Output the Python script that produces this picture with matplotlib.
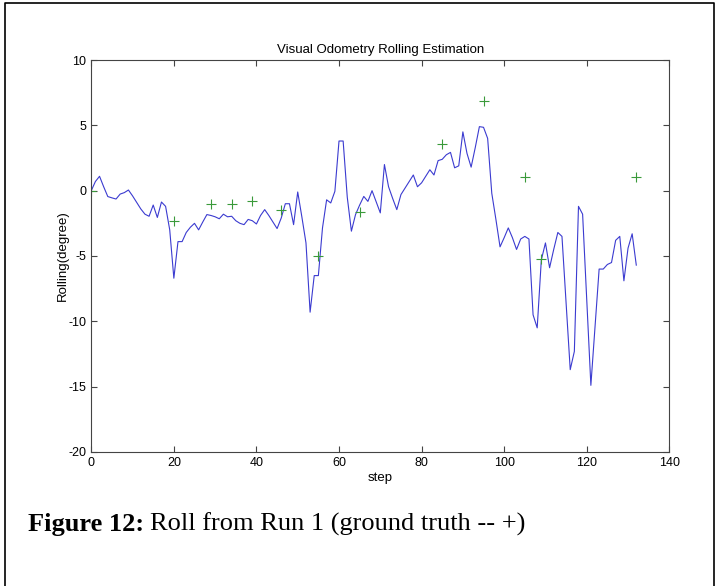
import numpy as np
import matplotlib
matplotlib.use("Agg")
import matplotlib.pyplot as plt
from matplotlib.lines import Line2D

plt.rcParams["font.family"] = ["Liberation Sans", "DejaVu Sans"]
plt.rcParams["axes.unicode_minus"] = False

# estimated roll from the visual odometry (one value per step)
roll_est = [
    0.0, 0.7, 1.1, 0.3, -0.45, -0.55, -0.64, -0.26, -0.15, 0.05,
    -0.4, -0.9, -1.4, -1.8, -1.96, -1.1, -2.05, -0.87, -1.2, -3.0,
    -6.7, -3.9, -3.9, -3.2, -2.8, -2.5, -3.0, -2.4, -1.83, -1.9,
    -2.0, -2.15, -1.8, -2.0, -1.96, -2.3, -2.5, -2.6, -2.2, -2.3,
    -2.55, -1.9, -1.45, -1.9, -2.4, -2.9, -2.1, -1.0, -1.0, -2.6,
    -0.1, -2.0, -4.0, -9.3, -6.5, -6.5, -2.85, -0.7, -0.94, -0.05,
    3.8, 3.8, -0.5, -3.1, -1.83, -1.1, -0.44, -0.82, 0.0, -0.85,
    -1.7, 2.0, 0.3, -0.6, -1.45, -0.3, 0.2, 0.7, 1.2, 0.3,
    0.6, 1.1, 1.6, 1.2, 2.3, 2.4, 2.75, 2.93, 1.75, 1.9,
    4.5, 2.85, 1.8, 3.3, 4.9, 4.85, 4.0, -0.2, -2.2, -4.3,
    -3.6, -2.85, -3.6, -4.5, -3.7, -3.5, -3.7, -9.5, -10.5, -5.3,
    -4.0, -5.9, -4.5, -3.2, -3.5, -8.6, -13.7, -12.3, -1.2, -1.8,
    -8.4, -14.9, -10.5, -6.0, -6.0, -5.65, -5.5, -3.8, -3.5, -6.9,
    -4.4, -3.3, -5.7,
]
steps = np.arange(len(roll_est))

# ground truth samples
gt_steps = [0, 20, 29, 34, 39, 46, 55, 65, 85, 95, 105, 109, 132]
gt_roll = [0.0, -2.3, -1.0, -1.0, -0.8, -1.5, -5.0, -1.65, 3.55, 6.85, 1.07, -5.25, 1.05]

fig = plt.figure(figsize=(7.17, 5.86), dpi=100)
ax = fig.add_axes([0.1273, 0.2287, 0.8062, 0.6689])

ax.plot(steps, roll_est, color="#3b3bd0", lw=0.8)
ax.plot(gt_steps, gt_roll, "+", color="#3a9a3a", ms=7, mew=0.8)

ax.set_xlim(0, 140)
ax.set_ylim(-20, 10)
ax.set_xticks(np.arange(0, 141, 20))
ax.set_yticks(np.arange(-20, 11, 5))
ax.tick_params(direction="in", top=True, right=True, length=4, width=0.8,
               labelsize=9, color="#444444", pad=3.5)
for s in ax.spines.values():
    s.set_color("#444444")
    s.set_linewidth(0.8)

ax.set_title("Visual Odometry Rolling Estimation", fontsize=9.5, pad=5)
ax.set_xlabel("step", fontsize=9.5, labelpad=2)
ax.set_ylabel("Rolling(degree)", fontsize=9.5, labelpad=0)

# caption
cap_y = 1 - 531 / 586
t1 = fig.text(28 / 717, cap_y, "Figure 12:", fontsize=19, fontweight="bold",
              family="Liberation Serif", va="baseline")
fig.canvas.draw()
bb = t1.get_window_extent()
fig.text(bb.x1 / 717 + 6 / 717, cap_y, "Roll from Run 1 (ground truth -- +)",
         fontsize=19, family="Liberation Serif", va="baseline")

# page border
fx = [4.5 / 717, 4.5 / 717, 713.5 / 717, 713.5 / 717]
fy = [0.0, 1 - 2.5 / 586, 1 - 2.5 / 586, 0.0]
fig.add_artist(Line2D(fx, fy, transform=fig.transFigure, color="black", lw=1.2))

fig.savefig("out.png", dpi=100)
